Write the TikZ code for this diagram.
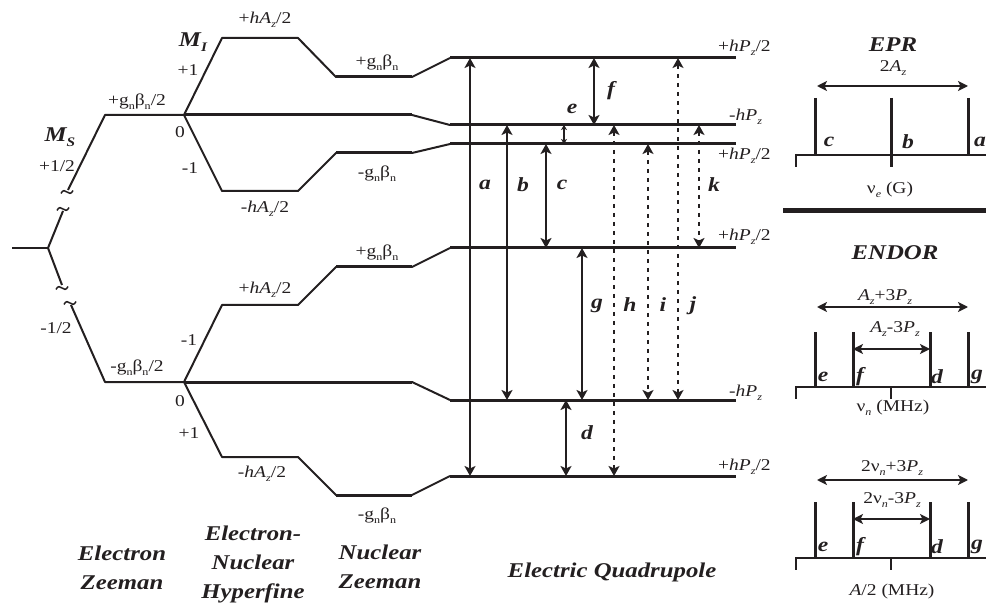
\documentclass[tikz,border=0pt]{standalone}
\usepackage{fontspec}
\setmainfont[FakeStretch=1.18]{Liberation Serif}
\usetikzlibrary{arrows.meta,calc,positioning}
\definecolor{inkBlack}{HTML}{231F20}
\tikzset{
  level line/.style={line width=3pt, draw=inkBlack},
  link line/.style={line width=2pt, draw=inkBlack, line join=round},
  transition/.style={{Stealth[length=10pt,width=11pt,inset=2.5pt]}-{Stealth[length=10pt,width=11pt,inset=2.5pt]},
    line width=2.6pt, draw=inkBlack},
  small transition/.style={{Stealth[length=5pt,width=6pt,inset=1.5pt]}-{Stealth[length=5pt,width=6pt,inset=1.5pt]},
    line width=1.4pt, draw=inkBlack},
  dotted transition/.style={transition, line width=2.2pt, dash pattern=on 4pt off 5pt},
  stick/.style={line width=3pt, draw=inkBlack},
  axis line/.style={line width=1.8pt, draw=inkBlack},
  span arrow/.style={{Stealth[length=10pt,width=10pt,inset=2.5pt]}-{Stealth[length=10pt,width=10pt,inset=2.5pt]},
    line width=2.4pt, draw=inkBlack},
  level label/.style={font=\fontsize{16.5}{18}\selectfont, text=inkBlack, inner sep=0pt},
  trans label/.style={font=\fontsize{20}{22}\selectfont\bfseries\itshape, text=inkBlack, inner sep=0pt},
  section title/.style={font=\fontsize{21}{29}\selectfont\bfseries\itshape, text=inkBlack,
    align=center, inner sep=0pt},
  squig/.pic={\draw[line width=1.5pt, draw=inkBlack]
    (-6,1.5) .. controls (-2,-7) and (2,7) .. (6,-1.5);}
}
\newcommand{\lo}[1]{\raisebox{-0.55ex}{\scalebox{0.62}{#1}}}
\newcommand{\gb}{g\lo{n}β\lo{n}}
\newcommand{\hA}{\textit{hA}\lo{\textit{z}}}
\newcommand{\hP}{\textit{hP}\lo{\textit{z}}}
\newcommand{\Az}{\textit{A}\lo{\textit{z}}}
\newcommand{\Pz}{\textit{P}\lo{\textit{z}}}
\newcommand{\nun}{ν\lo{\textit{n}}}

\begin{document}
\begin{tikzpicture}[x=1pt, y=-1pt]
  \useasboundingbox (0,0) rectangle (986,604);

  % electron Zeeman
  \coordinate (ez0) at (48,248);
  \coordinate (ezU) at (184,115);
  \coordinate (ezD) at (184,382);
  \draw[link line] (12,248) -- (ez0);
  \draw[link line] (ez0) -- (63,211);
  \draw[link line] (68,190) -- (105,115) -- (ezU);
  \draw[link line] (ez0) -- (62,285);
  \draw[link line] (71,305) -- (105,382) -- (ezD);
  \pic at (63,209) {squig};
  \pic at (67,192) {squig};
  \pic at (62,288) {squig};
  \pic at (70,303) {squig};

  % quadrupole levels
  \coordinate (Q1) at (450,58);
  \coordinate (Q2) at (450,125);
  \coordinate (Q3) at (450,144);
  \coordinate (Q4) at (450,248);
  \coordinate (Q5) at (450,400);
  \coordinate (Q6) at (450,476);
  \coordinate (Qend) at (736,0);

  % hyperfine + nuclear Zeeman branches
  \draw[link line] (ezU) -- (222,38) -- (298,38) -- (336,77) -- (412,77) -- (Q1);
  \draw[link line] (ezU) -- (412,115) -- (Q2);
  \draw[link line] (ezU) -- (222,191) -- (298,191) -- (336,153) -- (412,153) -- (Q3);
  \draw[link line] (ezD) -- (222,305) -- (298,305) -- (336,267) -- (412,267) -- (Q4);
  \draw[link line] (ezD) -- (412,382) -- (Q5);
  \draw[link line] (ezD) -- (222,457) -- (298,457) -- (336,495) -- (412,495) -- (Q6);
  \draw[level line] (336,77) -- (412,77);
  \draw[level line] (ezU) -- (412,115);
  \draw[level line] (336,153) -- (412,153);
  \draw[level line] (336,267) -- (412,267);
  \draw[level line] (ezD) -- (412,382);
  \draw[level line] (336,495) -- (412,495);
  \foreach \q in {Q1,Q2,Q3,Q4,Q5,Q6}
    \draw[level line] (\q) -- (\q -| Qend);

  % transitions
  \coordinate (ta) at (470,0);  \coordinate (tb) at (507,0);
  \coordinate (tc) at (546,0);  \coordinate (te) at (564,0);
  \coordinate (td) at (566,0);  \coordinate (tg) at (582,0);
  \coordinate (tf) at (594,0);  \coordinate (th) at (614,0);
  \coordinate (ti) at (648,0);  \coordinate (tj) at (678,0);
  \coordinate (tk) at (699,0);
  \draw[transition] (ta |- Q1) -- (ta |- Q6);
  \draw[transition] (tb |- Q2) -- (tb |- Q5);
  \draw[transition] (tc |- Q3) -- (tc |- Q4);
  \draw[small transition] (te |- Q2) -- (te |- Q3);
  \draw[transition] (tf |- Q1) -- (tf |- Q2);
  \draw[transition] (tg |- Q4) -- (tg |- Q5);
  \draw[transition] (td |- Q5) -- (td |- Q6);
  \draw[dotted transition] (th |- Q2) -- (th |- Q6);
  \draw[dotted transition] (ti |- Q3) -- (ti |- Q5);
  \draw[dotted transition] (tj |- Q1) -- (tj |- Q5);
  \draw[dotted transition] (tk |- Q2) -- (tk |- Q4);

  \node[trans label] (la) at (485,185) {a};
  \node[trans label] (lb) at (523,185) {b};
  \node[trans label] (lc) at (562,185) {c};
  \node[trans label] (lk) at (714,185) {k};
  \node[trans label] (le) at (572,109) {e};
  \node[trans label] (lf) at (611,91) {f};
  \node[trans label] (lg) at (597,306) {g};
  \node[trans label] (lh) at (630,305) {h};
  \node[trans label] (li) at (663,305) {i};
  \node[trans label] (lj) at (693,306) {j};
  \node[trans label] (ld) at (587,433) {d};

  % level labels
  \node[section title] (ms) at (60,137) {M\lo{S}};
  \node[level label] (msU) at (57,166) {+1/2};
  \node[level label] (msD) at (56,328) {-1/2};
  \node[level label] (ezl1) at (137,102) {+\gb/2};
  \node[level label] (ezl2) at (137,368) {-\gb/2};
  \node[section title] (mi) at (193,42) {M\lo{I}};
  \node[level label] (mi1) at (188,70) {+1};
  \node[level label] (mi2) at (180,132) {0};
  \node[level label] (mi3) at (190,168) {-1};
  \node[level label] (mi4) at (189,340) {-1};
  \node[level label] (mi5) at (180,401) {0};
  \node[level label] (mi6) at (189,433) {+1};
  \node[level label] (hf1) at (265,20) {+\hA/2};
  \node[level label] (hf2) at (265,209) {-\hA/2};
  \node[level label] (hf3) at (265,290) {+\hA/2};
  \node[level label] (hf4) at (262,474) {-\hA/2};
  \node[level label] (nz1) at (377,63) {+\gb};
  \node[level label] (nz2) at (377,174) {-\gb};
  \node[level label] (nz3) at (377,253) {+\gb};
  \node[level label] (nz4) at (377,516) {-\gb};
  \node[level label, anchor=west] (qp1) at (718,48) {+\hP/2};
  \node[level label, anchor=west] (qp2) at (729,117) {-\hP};
  \node[level label, anchor=west] (qp3) at (718,156) {+\hP/2};
  \node[level label, anchor=west] (qp4) at (718,237) {+\hP/2};
  \node[level label, anchor=west] (qp5) at (729,393) {-\hP};
  \node[level label, anchor=west] (qp6) at (718,467) {+\hP/2};

  % section names
  \node[section title] (tEZ) at (122,568) {Electron\\Zeeman};
  \node[section title] (tHF) at (253,564) {Electron-\\Nuclear\\Hyperfine};
  \node[section title] (tNZ) at (380,567) {Nuclear\\Zeeman};
  \node[section title] (tEQ) at (612,572) {Electric Quadrupole};

  % EPR spectrum
  \node[section title] (epr) at (893,45) {EPR};
  \node[level label] (epr w) at (893,68) {2\Az};
  \draw[span arrow] (817,86) -- (968,86);
  \foreach \x/\y in {815/155, 891/167, 968/155}
    \draw[stick] (\x,98) -- (\x,\y);
  \draw[axis line] (796,155) -- (986,155);
  \draw[axis line] (796,154) -- (796,167);
  \node[trans label] (ec) at (829,142) {c};
  \node[trans label] (eb) at (908,142) {b};
  \node[trans label] (ea) at (980,142) {a};
  \node[level label] (eax) at (890,190) {ν\lo{\textit{e}} (G)};
  \draw[line width=5pt, draw=inkBlack] (783,211) -- (986,211);

  % ENDOR spectra
  \node[section title] (endor) at (895,253) {ENDOR};
  \node[level label] (n1 out) at (885,297) {\Az+3\Pz};
  \draw[span arrow] (817,307) -- (968,307);
  \node[level label] (n1 in) at (895,329) {\Az-3\Pz};
  \draw[span arrow] (853,349) -- (930,349);
  \foreach \x in {815,853,930,968}
    \draw[stick] (\x,332) -- (\x,387);
  \draw[axis line] (796,387) -- (986,387);
  \draw[axis line] (796,386) -- (796,399);
  \draw[axis line] (891,386) -- (891,399);
  \node[trans label] (ne1) at (823,377) {e};
  \node[trans label] (nf1) at (860,377) {f};
  \node[trans label] (nd1) at (937,377) {d};
  \node[trans label] (ng1) at (977,377) {g};
  \node[level label] (n1 ax) at (893,408) {ν\lo{\textit{n}} (MHz)};

  \node[level label] (n2 out) at (892,468) {2\nun+3\Pz};
  \draw[span arrow] (817,480) -- (968,480);
  \node[level label] (n2 in) at (892,500) {2\nun-3\Pz};
  \draw[span arrow] (853,519) -- (930,519);
  \foreach \x in {815,853,930,968}
    \draw[stick] (\x,502) -- (\x,558);
  \draw[axis line] (796,558) -- (986,558);
  \draw[axis line] (796,557) -- (796,570);
  \draw[axis line] (891,557) -- (891,570);
  \node[trans label] (ne2) at (823,547) {e};
  \node[trans label] (nf2) at (860,547) {f};
  \node[trans label] (nd2) at (937,547) {d};
  \node[trans label] (ng2) at (977,547) {g};
  \node[level label] (n2 ax) at (892,592) {\textit{A}/2 (MHz)};
\end{tikzpicture}
\end{document}
